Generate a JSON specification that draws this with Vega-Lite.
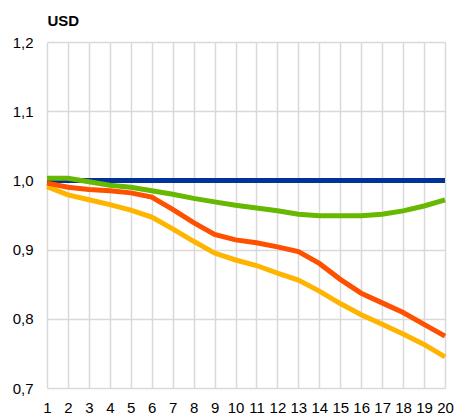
{
  "$schema": "https://vega.github.io/schema/vega-lite/v6.json",
  "width": 398,
  "height": 346,
  "autosize": {"type": "none"},
  "padding": {"left": 47, "top": 42, "right": 11, "bottom": 26},
  "background": "white",
  "config": {
    "view": {"stroke": null},
    "font": "Liberation Sans",
    "axis": {
      "domain": false,
      "ticks": false,
      "grid": true,
      "gridColor": "#d9d9d9",
      "gridWidth": 1.5,
      "labelFont": "Liberation Sans",
      "labelFontSize": 15,
      "labelColor": "#000000"
    }
  },
  "datasets": {
    "rates": [
      {"t": 1, "s": "base", "v": 1.0}, {"t": 2, "s": "base", "v": 1.0}, {"t": 3, "s": "base", "v": 1.0}, {"t": 4, "s": "base", "v": 1.0}, {"t": 5, "s": "base", "v": 1.0},
      {"t": 6, "s": "base", "v": 1.0}, {"t": 7, "s": "base", "v": 1.0}, {"t": 8, "s": "base", "v": 1.0}, {"t": 9, "s": "base", "v": 1.0}, {"t": 10, "s": "base", "v": 1.0},
      {"t": 11, "s": "base", "v": 1.0}, {"t": 12, "s": "base", "v": 1.0}, {"t": 13, "s": "base", "v": 1.0}, {"t": 14, "s": "base", "v": 1.0}, {"t": 15, "s": "base", "v": 1.0},
      {"t": 16, "s": "base", "v": 1.0}, {"t": 17, "s": "base", "v": 1.0}, {"t": 18, "s": "base", "v": 1.0}, {"t": 19, "s": "base", "v": 1.0}, {"t": 20, "s": "base", "v": 1.0},

      {"t": 1, "s": "low", "v": 0.991}, {"t": 2, "s": "low", "v": 0.979}, {"t": 3, "s": "low", "v": 0.972}, {"t": 4, "s": "low", "v": 0.965}, {"t": 5, "s": "low", "v": 0.957},
      {"t": 6, "s": "low", "v": 0.947}, {"t": 7, "s": "low", "v": 0.930}, {"t": 8, "s": "low", "v": 0.912}, {"t": 9, "s": "low", "v": 0.895}, {"t": 10, "s": "low", "v": 0.885},
      {"t": 11, "s": "low", "v": 0.877}, {"t": 12, "s": "low", "v": 0.866}, {"t": 13, "s": "low", "v": 0.856}, {"t": 14, "s": "low", "v": 0.840}, {"t": 15, "s": "low", "v": 0.822},
      {"t": 16, "s": "low", "v": 0.806}, {"t": 17, "s": "low", "v": 0.792}, {"t": 18, "s": "low", "v": 0.778}, {"t": 19, "s": "low", "v": 0.763}, {"t": 20, "s": "low", "v": 0.745},

      {"t": 1, "s": "mid", "v": 0.996}, {"t": 2, "s": "mid", "v": 0.990}, {"t": 3, "s": "mid", "v": 0.987}, {"t": 4, "s": "mid", "v": 0.985}, {"t": 5, "s": "mid", "v": 0.982},
      {"t": 6, "s": "mid", "v": 0.976}, {"t": 7, "s": "mid", "v": 0.958}, {"t": 8, "s": "mid", "v": 0.939}, {"t": 9, "s": "mid", "v": 0.922}, {"t": 10, "s": "mid", "v": 0.914},
      {"t": 11, "s": "mid", "v": 0.910}, {"t": 12, "s": "mid", "v": 0.904}, {"t": 13, "s": "mid", "v": 0.897}, {"t": 14, "s": "mid", "v": 0.880}, {"t": 15, "s": "mid", "v": 0.857},
      {"t": 16, "s": "mid", "v": 0.837}, {"t": 17, "s": "mid", "v": 0.823}, {"t": 18, "s": "mid", "v": 0.809}, {"t": 19, "s": "mid", "v": 0.792}, {"t": 20, "s": "mid", "v": 0.775},

      {"t": 1, "s": "high", "v": 1.003}, {"t": 2, "s": "high", "v": 1.003}, {"t": 3, "s": "high", "v": 0.998}, {"t": 4, "s": "high", "v": 0.993}, {"t": 5, "s": "high", "v": 0.990},
      {"t": 6, "s": "high", "v": 0.985}, {"t": 7, "s": "high", "v": 0.980}, {"t": 8, "s": "high", "v": 0.974}, {"t": 9, "s": "high", "v": 0.969}, {"t": 10, "s": "high", "v": 0.964},
      {"t": 11, "s": "high", "v": 0.960}, {"t": 12, "s": "high", "v": 0.956}, {"t": 13, "s": "high", "v": 0.951}, {"t": 14, "s": "high", "v": 0.949}, {"t": 15, "s": "high", "v": 0.949},
      {"t": 16, "s": "high", "v": 0.949}, {"t": 17, "s": "high", "v": 0.951}, {"t": 18, "s": "high", "v": 0.956}, {"t": 19, "s": "high", "v": 0.963}, {"t": 20, "s": "high", "v": 0.972}
    ]
  },
  "data": {"name": "rates"},
  "encoding": {
    "x": {
      "field": "t",
      "type": "quantitative",
      "scale": {"domain": [1, 20], "nice": false, "zero": false},
      "axis": {
        "title": null,
        "values": [1, 2, 3, 4, 5, 6, 7, 8, 9, 10, 11, 12, 13, 14, 15, 16, 17, 18, 19, 20],
        "labelPadding": 12,
        "labelFlush": false,
        "labelOverlap": false
      }
    },
    "y": {
      "field": "v",
      "type": "quantitative",
      "scale": {"domain": [0.7, 1.2], "nice": false, "zero": false},
      "axis": {
        "values": [0.7, 0.8, 0.9, 1.0, 1.1, 1.2],
        "labelExpr": "replace(format(datum.value, '.1f'), '.', ',')",
        "labelPadding": 14,
        "title": "USD",
        "titleAngle": 0,
        "titleX": 0,
        "titleY": -17,
        "titleAlign": "left",
        "titleBaseline": "alphabetic",
        "titleFont": "Liberation Sans",
        "titleFontSize": 15,
        "titleFontWeight": "bold",
        "titleColor": "#000000"
      }
    }
  },
  "layer": [
    {
      "transform": [{"filter": "datum.s === 'base'"}],
      "mark": {"type": "line", "strokeWidth": 5, "color": "#003399"}
    },
    {
      "transform": [{"filter": "datum.s === 'low'"}],
      "mark": {"type": "line", "strokeWidth": 5, "color": "#ffb400"}
    },
    {
      "transform": [{"filter": "datum.s === 'mid'"}],
      "mark": {"type": "line", "strokeWidth": 5, "color": "#ff5000"}
    },
    {
      "transform": [{"filter": "datum.s === 'high'"}],
      "mark": {"type": "line", "strokeWidth": 5, "color": "#66b800"}
    }
  ]
}
